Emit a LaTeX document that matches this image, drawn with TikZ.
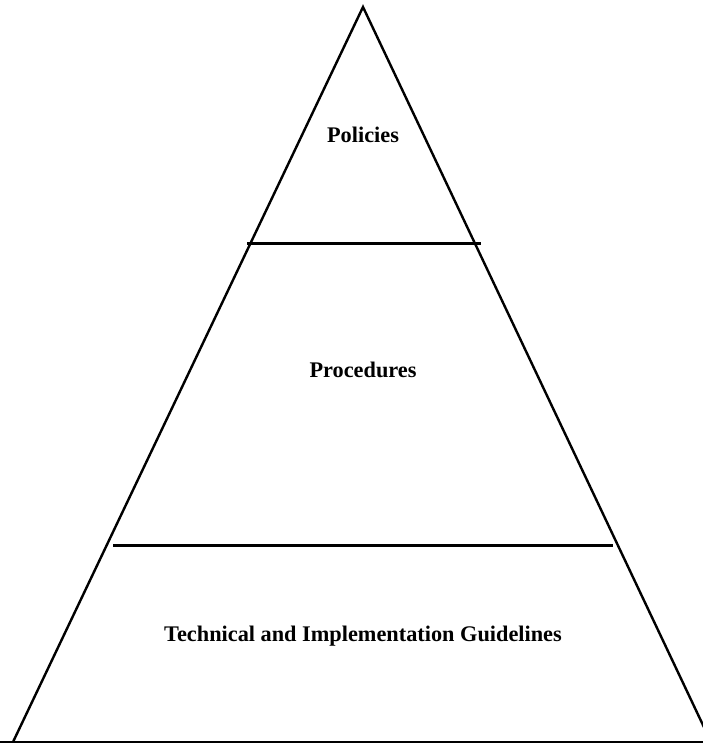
\documentclass[tikz,border=0pt]{standalone}
\usepackage{fontspec}
\setmainfont{Liberation Serif}
\usepackage{tikz}
\usetikzlibrary{positioning,calc}

\tikzset{
  edgeline/.style={line width=2.4pt, line join=miter},
  layerline/.style={line width=3pt},
  layerlabel/.style={font=\fontsize{22.3}{26}\selectfont\bfseries, inner sep=0pt}
}

\begin{document}
\begin{tikzpicture}[x=1pt,y=-1pt]
    \useasboundingbox (0,0) rectangle (703,744);

    % Pyramid outline
    \coordinate (apex) at (363,7);
    \coordinate (baseleft) at (13,742);
    \coordinate (baseright) at (711,742);
    \draw[edgeline] (baseleft) -- (apex) -- (baseright);
    \draw[edgeline] (0,742) -- (703,742);

    % Layer separators
    \coordinate (topl) at (247,243);
    \coordinate (topr) at (481,243);
    \coordinate (midl) at (113,545);
    \coordinate (midr) at (613,545);
    \draw[layerline] (topl) -- (topr);
    \draw[layerline] (midl) -- (midr);

    % Layer names
    \node[layerlabel] (policies) at (363,135) {Policies};
    \node[layerlabel] (procedures) at (363,370) {Procedures};
    \node[layerlabel] (guidelines) at (363,636) {Technical and Implementation Guidelines};
\end{tikzpicture}
\end{document}
